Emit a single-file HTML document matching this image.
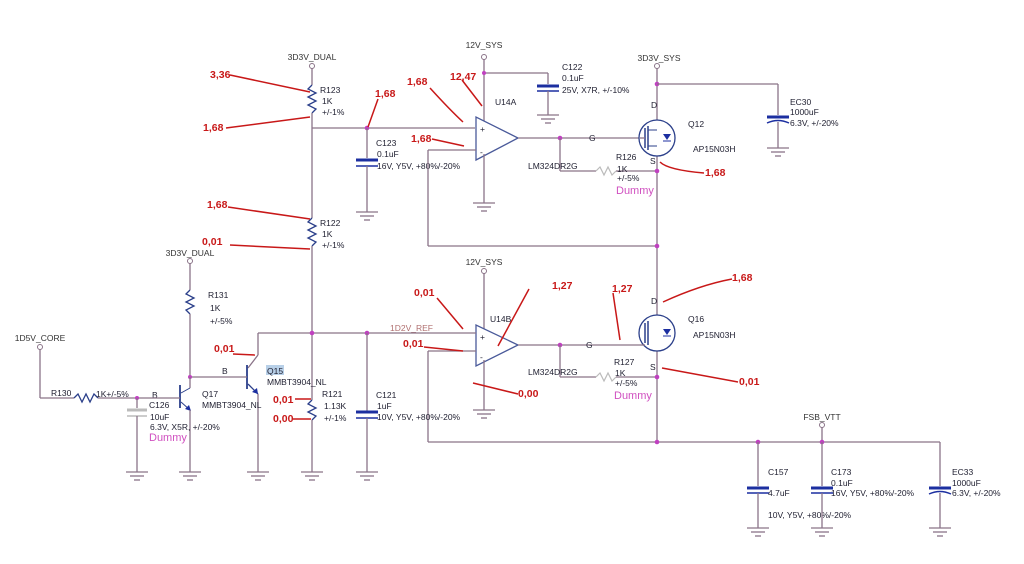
<!DOCTYPE html>
<html><head><meta charset="utf-8"><style>
html,body{margin:0;padding:0;background:#fff;width:1024px;height:564px;overflow:hidden}
svg{display:block}
text{font-family:"Liberation Sans",sans-serif}
.w{stroke:#8a7388;stroke-width:1.3;fill:none}
.r{stroke:#c81818;stroke-width:1.5;fill:none}
.rt{fill:#c81818;font-size:10.5px;font-weight:bold}
.l{fill:#333;font-size:8.5px}
.b{fill:#223;font-size:8.5px}
.res{stroke:#2b3f8a;stroke-width:1.3;fill:none}
.cap{stroke:#1c2fa0;stroke-width:3}
.n{fill:#c040c0}
</style></head><body>
<svg width="1024" height="564" viewBox="0 0 1024 564" xmlns="http://www.w3.org/2000/svg">
<defs>
<g id="gnd"><line x1="-11" y1="0" x2="11" y2="0" stroke="#8a7388" stroke-width="1.3"/><line x1="-7" y1="4" x2="7" y2="4" stroke="#8a7388" stroke-width="1.3"/><line x1="-3" y1="8" x2="3" y2="8" stroke="#8a7388" stroke-width="1.3"/></g>
</defs>

<text x="312" y="60" class="l" text-anchor="middle">3D3V_DUAL</text>
<circle cx="312" cy="66" r="2.5" fill="none" stroke="#8a7388"/>
<line class="w" x1="312" y1="68" x2="312" y2="85"/>
<polyline class="res" points="312,85 308,89 316,93 308,97 316,101 308,105 316,109 312,113"/>
<line class="w" x1="312" y1="113" x2="312" y2="218"/>
<polyline class="res" points="312,218 308,222 316,226 308,230 316,234 308,238 316,242 312,246"/>
<line class="w" x1="312" y1="246" x2="312" y2="400"/>
<polyline class="res" points="312,400 308,404 316,408 308,412 316,416 312,420"/>
<line class="w" x1="312" y1="420" x2="312" y2="472"/>
<use href="#gnd" x="312" y="472"/>
<text x="320" y="93" class="b">R123</text><text x="322" y="104" class="b">1K</text><text x="322" y="115" class="b">+/-1%</text>
<text x="320" y="226" class="b">R122</text><text x="322" y="237" class="b">1K</text><text x="322" y="248" class="b">+/-1%</text>
<text x="322" y="397" class="b">R121</text><text x="324" y="409" class="b">1.13K</text><text x="324" y="421" class="b">+/-1%</text>

<line class="w" x1="312" y1="128" x2="475" y2="128"/>
<circle class="n" cx="367" cy="128" r="2.3"/>
<line class="w" x1="367" y1="128" x2="367" y2="158"/>
<line class="cap" x1="356" y1="160" x2="378" y2="160"/>
<line stroke="#1c2fa0" stroke-width="1.5" x1="356" y1="166" x2="378" y2="166"/>
<line class="w" x1="367" y1="166" x2="367" y2="212"/>
<use href="#gnd" x="367" y="212"/>
<text x="376" y="146" class="b">C123</text><text x="377" y="157" class="b" fill="#2a3ca0">0.1uF</text><text x="377" y="169" class="b">16V, Y5V, +80%/-20%</text>

<text x="484" y="48" class="l" text-anchor="middle">12V_SYS</text>
<circle cx="484" cy="57" r="2.5" fill="none" stroke="#8a7388"/>
<line class="w" x1="484" y1="59" x2="484" y2="122"/>
<line class="w" x1="484" y1="73" x2="548" y2="73"/><circle class="n" cx="484" cy="73" r="2"/>
<line class="w" x1="548" y1="73" x2="548" y2="84"/>
<line class="cap" x1="537" y1="86" x2="559" y2="86"/><line stroke="#1c2fa0" stroke-width="1.5" x1="537" y1="91" x2="559" y2="91"/>
<line class="w" x1="548" y1="91" x2="548" y2="115"/><use href="#gnd" x="548" y="115"/>
<text x="562" y="70" class="b">C122</text><text x="562" y="81" class="b">0.1uF</text><text x="562" y="93" class="b">25V, X7R, +/-10%</text>
<polygon points="476,117 476,160 518,138" fill="#fff" stroke="#4a5a9a" stroke-width="1.3"/>
<text x="495" y="105" class="b">U14A</text>
<text x="480" y="132" class="b">+</text><text x="480" y="155" class="b">-</text>
<line class="w" x1="484" y1="154" x2="484" y2="203"/><use href="#gnd" x="484" y="203"/>
<line class="w" x1="428" y1="150" x2="476" y2="150"/>
<line class="w" x1="428" y1="150" x2="428" y2="246"/>
<line class="w" x1="428" y1="246" x2="657" y2="246"/>
<line class="w" x1="518" y1="138" x2="640" y2="138"/>
<circle class="n" cx="560" cy="138" r="2.3"/>
<line class="w" x1="560" y1="138" x2="560" y2="171"/><line class="w" x1="560" y1="171" x2="596" y2="171"/>
<polyline points="596,171 600,167 604,175 608,167 612,175 616,171" fill="none" stroke="#bbb" stroke-width="1.2"/>
<line class="w" x1="616" y1="171" x2="657" y2="171"/>
<text x="528" y="169" class="b">LM324DR2G</text>
<text x="616" y="160" class="b">R126</text><text x="617" y="172" class="b">1K</text><text x="617" y="181" class="b">+/-5%</text>
<text x="616" y="194" fill="#d050c0" font-size="11" font-family="Liberation Sans">Dummy</text>
<text x="589" y="141" class="b">G</text>

<text x="659" y="61" class="l" text-anchor="middle">3D3V_SYS</text>
<circle cx="657" cy="66" r="2.5" fill="none" stroke="#8a7388"/>
<line class="w" x1="657" y1="68" x2="657" y2="442"/>
<circle class="n" cx="657" cy="84" r="2.3"/>
<line class="w" x1="657" y1="84" x2="778" y2="84"/><line class="w" x1="778" y1="84" x2="778" y2="115"/>
<line class="cap" x1="767" y1="117" x2="789" y2="117"/><path d="M767,123 Q778,118 789,123" stroke="#1c2fa0" fill="none" stroke-width="1.5"/>
<line class="w" x1="778" y1="122" x2="778" y2="148"/><use href="#gnd" x="778" y="148"/>
<text x="790" y="105" class="b">EC30</text><text x="790" y="115" class="b">1000uF</text><text x="790" y="126" class="b">6.3V, +/-20%</text>
<circle cx="657" cy="138" r="18" fill="#fff" stroke="#2b3f8a" stroke-width="1.3"/>
<line x1="648" y1="126" x2="648" y2="150" stroke="#2b3f8a" stroke-width="1.5"/>
<line x1="645" y1="128" x2="645" y2="148" stroke="#2b3f8a" stroke-width="1.5"/>
<line x1="648" y1="130" x2="657" y2="130" stroke="#2b3f8a"/><line x1="648" y1="146" x2="657" y2="146" stroke="#2b3f8a"/>
<polygon points="663,134 671,134 667,140" fill="#1c2fa0"/><line x1="663" y1="141" x2="671" y2="141" stroke="#1c2fa0"/>
<line class="w" x1="640" y1="138" x2="645" y2="138"/>
<text x="651" y="108" class="b">D</text><text x="650" y="164" class="b">S</text>
<text x="688" y="127" class="b">Q12</text><text x="693" y="152" class="b">AP15N03H</text>
<circle class="n" cx="657" cy="171" r="2.3"/><circle class="n" cx="657" cy="246" r="2.3"/>

<text x="484" y="265" class="l" text-anchor="middle">12V_SYS</text>
<circle cx="484" cy="271" r="2.5" fill="none" stroke="#8a7388"/>
<line class="w" x1="484" y1="273" x2="484" y2="330"/>
<polygon points="476,325 476,366 518,345" fill="#fff" stroke="#4a5a9a" stroke-width="1.3"/>
<text x="490" y="322" class="b">U14B</text>
<text x="480" y="340" class="b">+</text><text x="480" y="360" class="b">-</text>
<line class="w" x1="484" y1="360" x2="484" y2="410"/><use href="#gnd" x="484" y="410"/>
<text x="390" y="331" fill="#b07070" font-size="8.5" font-family="Liberation Sans">1D2V_REF</text>
<line class="w" x1="258" y1="333" x2="476" y2="333"/>
<circle class="n" cx="312" cy="333" r="2.3"/><circle class="n" cx="367" cy="333" r="2.3"/>
<line class="w" x1="428" y1="351" x2="476" y2="351"/>
<line class="w" x1="428" y1="351" x2="428" y2="442"/>
<line class="w" x1="428" y1="442" x2="940" y2="442"/>
<line class="w" x1="518" y1="345" x2="640" y2="345"/>
<circle class="n" cx="560" cy="345" r="2.3"/>
<line class="w" x1="560" y1="345" x2="560" y2="377"/><line class="w" x1="560" y1="377" x2="596" y2="377"/>
<polyline points="596,377 600,373 604,381 608,373 612,381 616,377" fill="none" stroke="#bbb" stroke-width="1.2"/>
<line class="w" x1="616" y1="377" x2="657" y2="377"/>
<text x="528" y="375" class="b">LM324DR2G</text>
<text x="614" y="365" class="b">R127</text><text x="615" y="376" class="b">1K</text><text x="615" y="386" class="b">+/-5%</text>
<text x="614" y="399" fill="#d050c0" font-size="11" font-family="Liberation Sans">Dummy</text>
<text x="586" y="348" class="b">G</text>
<circle cx="657" cy="333" r="18" fill="#fff" stroke="#2b3f8a" stroke-width="1.3"/>
<line x1="648" y1="321" x2="648" y2="345" stroke="#2b3f8a" stroke-width="1.5"/>
<line x1="645" y1="323" x2="645" y2="343" stroke="#2b3f8a" stroke-width="1.5"/>
<polygon points="663,329 671,329 667,335" fill="#1c2fa0"/><line x1="663" y1="336" x2="671" y2="336" stroke="#1c2fa0"/>
<line class="w" x1="640" y1="345" x2="645" y2="345"/>
<text x="651" y="304" class="b">D</text><text x="650" y="370" class="b">S</text>
<text x="688" y="322" class="b">Q16</text><text x="693" y="338" class="b">AP15N03H</text>
<circle class="n" cx="657" cy="377" r="2.3"/><circle class="n" cx="657" cy="442" r="2.3"/>

<line class="w" x1="367" y1="333" x2="367" y2="411"/>
<line class="cap" x1="356" y1="412" x2="378" y2="412"/><line stroke="#1c2fa0" stroke-width="1.5" x1="356" y1="418" x2="378" y2="418"/>
<line class="w" x1="367" y1="418" x2="367" y2="472"/><use href="#gnd" x="367" y="472"/>
<text x="376" y="398" class="b">C121</text><text x="377" y="409" class="b" fill="#2a3ca0">1uF</text><text x="377" y="420" class="b">10V, Y5V, +80%/-20%</text>

<line class="w" x1="258" y1="333" x2="258" y2="355"/>
<line class="w" x1="258" y1="355" x2="248" y2="368"/>
<line x1="247" y1="365" x2="247" y2="389" stroke="#2b3f8a" stroke-width="1.8"/>
<line x1="248" y1="384" x2="258" y2="394" stroke="#2b3f8a" stroke-width="1.3"/>
<polygon points="258,394 252,392 257,388" fill="#1c2fa0"/>
<line class="w" x1="258" y1="394" x2="258" y2="472"/><use href="#gnd" x="258" y="472"/>
<line class="w" x1="190" y1="377" x2="247" y2="377"/>
<text x="222" y="374" class="b">B</text>
<rect x="266" y="365" width="18" height="10" fill="#b8d0e8"/>
<text x="267" y="374" class="b">Q15</text><text x="267" y="385" class="b">MMBT3904_NL</text>

<text x="190" y="256" class="l" text-anchor="middle">3D3V_DUAL</text>
<circle cx="190" cy="261" r="2.5" fill="none" stroke="#8a7388"/>
<line class="w" x1="190" y1="263" x2="190" y2="290"/>
<polyline class="res" points="190,290 186,294 194,298 186,302 194,306 186,310 190,314"/>
<line class="w" x1="190" y1="314" x2="190" y2="377"/>
<text x="208" y="298" class="b">R131</text><text x="210" y="311" class="b">1K</text><text x="210" y="324" class="b">+/-5%</text>
<circle class="n" cx="190" cy="377" r="2"/>
<line class="w" x1="190" y1="377" x2="190" y2="388"/>
<line x1="180" y1="385" x2="180" y2="408" stroke="#2b3f8a" stroke-width="1.8"/>
<line x1="181" y1="393" x2="190" y2="388" stroke="#2b3f8a"/>
<line x1="181" y1="402" x2="190" y2="410" stroke="#2b3f8a"/>
<polygon points="191,411 185,409 189,405" fill="#1c2fa0"/>
<line class="w" x1="190" y1="410" x2="190" y2="472"/><use href="#gnd" x="190" y="472"/>
<text x="202" y="397" class="b">Q17</text><text x="202" y="408" class="b">MMBT3904_NL</text>
<text x="152" y="398" class="b">B</text>
<line class="w" x1="98" y1="398" x2="180" y2="398"/>
<circle class="n" cx="137" cy="398" r="2"/>
<text x="40" y="341" class="l" text-anchor="middle">1D5V_CORE</text>
<circle cx="40" cy="347" r="2.5" fill="none" stroke="#8a7388"/>
<line class="w" x1="40" y1="349" x2="40" y2="398"/><line class="w" x1="40" y1="398" x2="74" y2="398"/>
<polyline class="res" points="74,398 78,394 82,402 86,394 90,402 94,394 98,398"/>
<text x="51" y="396" class="b">R130</text><text x="96" y="397" class="b">1K+/-5%</text>
<line class="w" x1="137" y1="398" x2="137" y2="408"/>
<line stroke="#bbb" stroke-width="3" x1="127" y1="410" x2="147" y2="410"/><line stroke="#bbb" stroke-width="1.5" x1="127" y1="416" x2="147" y2="416"/>
<line class="w" x1="137" y1="416" x2="137" y2="472"/><use href="#gnd" x="137" y="472"/>
<text x="149" y="408" class="b">C126</text><text x="150" y="420" class="b" fill="#2a3ca0">10uF</text><text x="150" y="430" class="b">6.3V, X5R, +/-20%</text>
<text x="149" y="441" fill="#d050c0" font-size="11" font-family="Liberation Sans">Dummy</text>

<text x="822" y="420" class="l" text-anchor="middle">FSB_VTT</text>
<circle cx="822" cy="425" r="2.5" fill="none" stroke="#8a7388"/>
<line class="w" x1="822" y1="427" x2="822" y2="442"/>
<circle class="n" cx="758" cy="442" r="2.3"/><circle class="n" cx="822" cy="442" r="2.3"/>
<line class="w" x1="758" y1="442" x2="758" y2="486"/>
<line class="cap" x1="747" y1="488" x2="769" y2="488"/><line stroke="#1c2fa0" stroke-width="1.5" x1="747" y1="493" x2="769" y2="493"/>
<line class="w" x1="758" y1="493" x2="758" y2="528"/><use href="#gnd" x="758" y="528"/>
<text x="768" y="475" class="b">C157</text><text x="768" y="496" class="b">4.7uF</text>
<text x="768" y="518" class="b">10V, Y5V, +80%/-20%</text>
<line class="w" x1="822" y1="442" x2="822" y2="486"/>
<line class="cap" x1="811" y1="488" x2="833" y2="488"/><line stroke="#1c2fa0" stroke-width="1.5" x1="811" y1="493" x2="833" y2="493"/>
<line class="w" x1="822" y1="493" x2="822" y2="528"/><use href="#gnd" x="822" y="528"/>
<text x="831" y="475" class="b">C173</text><text x="831" y="486" class="b" fill="#2a3ca0">0.1uF</text><text x="831" y="496" class="b">16V, Y5V, +80%/-20%</text>
<line class="w" x1="940" y1="442" x2="940" y2="486"/>
<line class="cap" x1="929" y1="488" x2="951" y2="488"/><path d="M929,494 Q940,489 951,494" stroke="#1c2fa0" fill="none" stroke-width="1.5"/>
<line class="w" x1="940" y1="493" x2="940" y2="528"/><use href="#gnd" x="940" y="528"/>
<text x="952" y="475" class="b">EC33</text><text x="952" y="486" class="b">1000uF</text><text x="952" y="496" class="b">6.3V, +/-20%</text>

<text x="210" y="78" class="rt">3,36</text><path class="r" d="M230,75 L310,92"/>
<text x="203" y="131" class="rt">1,68</text><path class="r" d="M226,128 L310,117"/>
<text x="375" y="97" class="rt">1,68</text><path class="r" d="M378,99 L368,127"/>
<text x="407" y="85" class="rt">1,68</text><path class="r" d="M430,88 Q450,110 463,122"/>
<text x="450" y="80" class="rt">12,47</text><path class="r" d="M462,80 L482,106"/>
<text x="411" y="142" class="rt">1,68</text><path class="r" d="M432,139 L464,146"/>
<text x="207" y="208" class="rt">1,68</text><path class="r" d="M228,207 L310,219"/>
<text x="202" y="245" class="rt">0,01</text><path class="r" d="M230,245 L310,249"/>
<text x="705" y="176" class="rt">1,68</text><path class="r" d="M660,162 Q668,170 704,173"/>
<text x="414" y="296" class="rt">0,01</text><path class="r" d="M437,298 L463,329"/>
<text x="403" y="347" class="rt">0,01</text><path class="r" d="M424,347 L463,351"/>
<text x="552" y="289" class="rt">1,27</text><path class="r" d="M529,289 L498,346"/>
<text x="612" y="292" class="rt">1,27</text><path class="r" d="M613,293 L620,340"/>
<text x="732" y="281" class="rt">1,68</text><path class="r" d="M732,279 Q700,285 663,302"/>
<text x="739" y="385" class="rt">0,01</text><path class="r" d="M662,368 L738,382"/>
<text x="518" y="397" class="rt">0,00</text><path class="r" d="M473,383 L518,394"/>
<text x="214" y="352" class="rt">0,01</text><path class="r" d="M233,354 L255,355"/>
<text x="273" y="403" class="rt">0,01</text><path class="r" d="M295,399 L311,399"/>
<text x="273" y="422" class="rt">0,00</text><path class="r" d="M293,419 L311,419"/>
</svg>
</body></html>
